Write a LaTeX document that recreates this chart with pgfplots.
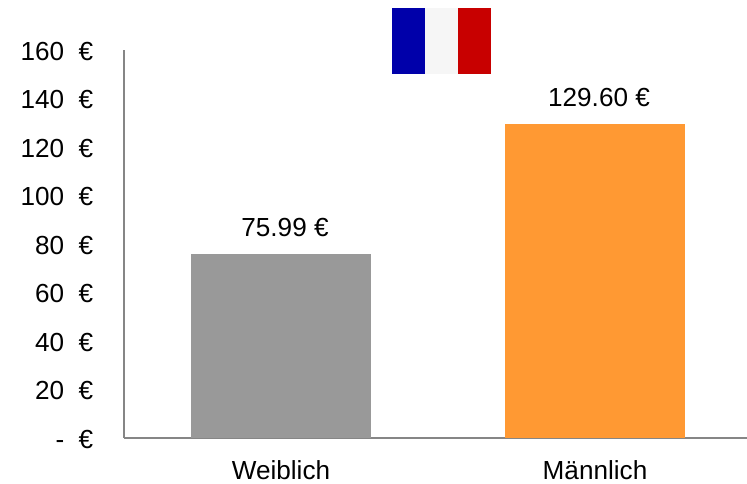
\documentclass[border=0pt]{standalone}
\usepackage{pgfplots}
\pgfplotsset{compat=1.18}
\usepackage{fontspec}
\setmainfont{Liberation Sans}
\definecolor{axisgray}{HTML}{868686}
\definecolor{barg}{HTML}{999999}
\definecolor{baro}{HTML}{FF9933}
\begin{document}
\begin{tikzpicture}[x=0.75pt,y=0.75pt]
\path[use as bounding box] (0,0) rectangle (747,484);
% flag
\fill[fill={rgb,255:red,0;green,0;blue,170}] (392,410) rectangle (425,476);
\fill[fill={rgb,255:red,246;green,246;blue,246}] (425,410) rectangle (458,476);
\fill[fill={rgb,255:red,200;green,0;blue,0}] (458,410) rectangle (491,476);
\begin{axis}[
  at={(93pt,34.5pt)}, anchor=south west,
  scale only axis,
  width=467.25pt, height=291pt,
  xmin=-0.5, xmax=1.484,
  ymin=0, ymax=160,
  axis lines=left,
  axis line style={draw=axisgray, line width=1.1pt, -},
  clip=false,
  ytick={0,20,...,160},
  yticklabels={-\hspace{0.556em}€,20\hspace{0.556em}€,40\hspace{0.556em}€,60\hspace{0.556em}€,80\hspace{0.556em}€,100\hspace{0.556em}€,120\hspace{0.556em}€,140\hspace{0.556em}€,160\hspace{0.556em}€},
  xtick={0,1},
  xticklabels={Weiblich,Männlich},
  major tick length=0pt,
  tick style={draw=none},
  ticklabel style={font=\fontsize{19.6pt}{23pt}\selectfont, text=black},
  yticklabel style={xshift=-19.5pt, yshift=-0.9pt},
  xticklabel style={yshift=-13.5pt},
  ybar, bar shift=0pt, bar width=135pt,
  point meta=explicit symbolic,
  nodes near coords,
  every node near coord/.append style={font=\fontsize{19.6pt}{23pt}\selectfont, text=black, xshift=3pt, yshift=9.5pt},
]
\addplot[fill=barg, draw=none] coordinates {(0,75.99) [75.99 €]};
\addplot[fill=baro, draw=none] coordinates {(1,129.60) [129.60 €]};
\end{axis}
\end{tikzpicture}
\end{document}
